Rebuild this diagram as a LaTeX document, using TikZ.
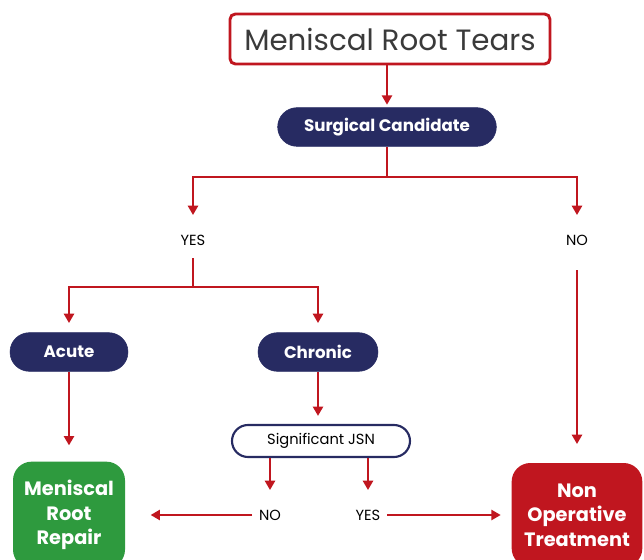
\documentclass[tikz,border=0pt]{standalone}
\usepackage{fontspec}
\setmainfont{Poppins}
\usetikzlibrary{positioning,arrows.meta}
\definecolor{tearred}{HTML}{C0161F}
\definecolor{darknavy}{HTML}{272B62}
\definecolor{repairgreen}{HTML}{2E9A3E}
\definecolor{titlegray}{HTML}{3A3A3A}
\tikzset{
	titlebox/.style={draw=tearred, line width=2.2pt, fill=white, rounded corners=4pt,
			minimum width=240pt, minimum height=37.5pt, text=titlegray, font=\fontsize{22}{26}\selectfont},
	pill/.style={fill=darknavy, draw=darknavy, rounded corners=14.5pt, minimum height=29pt,
			text=white, font=\bfseries\fontsize{12.5}{14}\selectfont},
	openpill/.style={draw=darknavy, line width=1.6pt, fill=white, rounded corners=12pt, minimum height=24pt,
			minimum width=133.5pt, text=black, font=\fontsize{11}{13}\selectfont},
	endbox/.style={rounded corners=14pt, text=white, align=center, inner sep=2pt,
			font=\bfseries\fontsize{14.5}{18.5}\selectfont},
	answer/.style={inner sep=0pt, minimum height=27pt, text=black, font=\fontsize{11}{13}\selectfont},
	flow/.style={draw=tearred, line width=1.8pt},
	arrow/.style={flow, -{Triangle[width=7.5pt,length=7pt]}}
}

\begin{document}
\begin{tikzpicture}[x=0.75pt,y=-0.75pt]

	% Fix the page to the reference size
	\useasboundingbox (0,0) rectangle (644,560);

	% Draw the boxes
	\node[titlebox] (tears) at (390,39) {Meniscal Root Tears};
	\node[pill, minimum width=164pt] (candidate) at (387,127) {Surgical Candidate};
	\node[pill, minimum width=88.5pt] (acute) at (69,352) {Acute};
	\node[pill, minimum width=90pt] (chronic) at (318,352) {Chronic};
	\node[openpill] (jsn) at (321,441) {Significant JSN};
	\node[endbox, fill=repairgreen, minimum width=84pt, minimum height=80pt] (repair) at (69,515) {Meniscal\\Root\\Repair};
	\node[endbox, fill=tearred, minimum width=98pt, minimum height=78pt] (nonop) at (577,515) {Non\\Operative\\Treatment};

	% Draw the answers
	\node[answer] (yes1) at (193,240) {YES};
	\node[answer] (no1) at (577,240) {NO};
	\node[answer] (no2) at (270,515) {NO};
	\node[answer] (yes2) at (368,515) {YES};

	% Draw the junctions
	\coordinate (split1) at (387,177);
	\coordinate (split2) at (193,287);

	% Draw the connectors
	\draw[arrow, shorten >=2pt] (tears.south -| candidate) -- (candidate);
	\draw[flow] (candidate) -- (split1);
	\draw[arrow, shorten >=5pt] (split1) -| (yes1);
	\draw[arrow, shorten >=5pt] (split1) -| (no1);
	\draw[flow] (yes1) -- (split2);
	\draw[arrow, shorten >=7pt] (split2) -| (acute);
	\draw[arrow, shorten >=7pt] (split2) -| (chronic);
	\draw[arrow, shorten >=6pt] (chronic) -- (chronic |- jsn.north);
	\draw[arrow, shorten >=12pt] (acute) -- (repair);
	\draw[arrow, shorten >=14pt, shorten <=9pt] (no1) -- (nonop);
	\draw[arrow, shorten >=5pt] (jsn.south -| no2) -- (no2);
	\draw[arrow, shorten >=5pt] (jsn.south -| yes2) -- (yes2);
	\draw[arrow, shorten >=19pt, shorten <=5pt] (no2) -- (repair);
	\draw[arrow, shorten >=8pt, shorten <=5pt] (yes2) -- (nonop);

\end{tikzpicture}
\end{document}
